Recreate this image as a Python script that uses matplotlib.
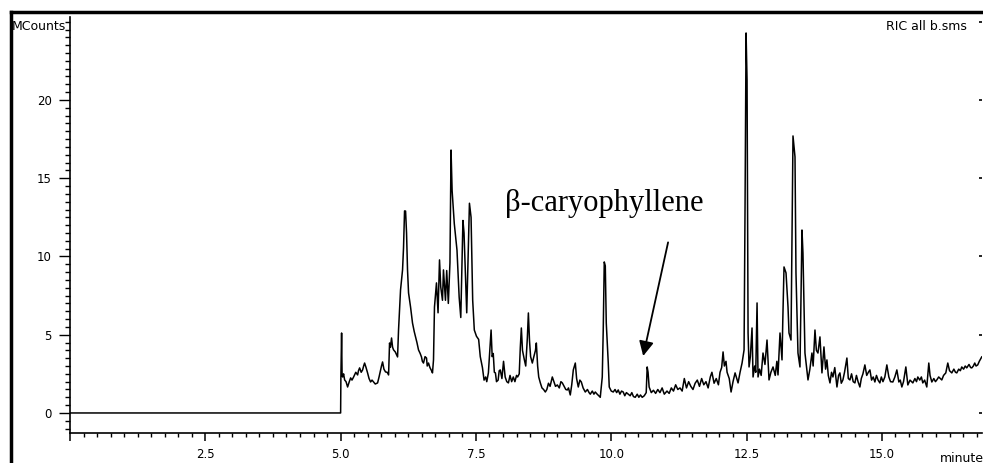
import numpy as np
import matplotlib
matplotlib.use("Agg")
import matplotlib.pyplot as plt
from matplotlib.ticker import MultipleLocator, FixedLocator
from matplotlib.lines import Line2D

# chromatogram: (retention time in min, intensity in MCounts)
flat_part = [(0.0, 0.0), (5.0, 0.0)]

early_cluster = [
    (5.005, 2.3), (5.018, 5.11), (5.027, 2.4), (5.037, 2.30), (5.055, 2.5),
    (5.074, 2.11), (5.10, 2.0), (5.129, 1.66), (5.16, 2.0), (5.185, 2.24),
    (5.21, 2.1), (5.24, 2.30), (5.28, 2.6), (5.314, 2.43), (5.33, 2.7),
    (5.351, 2.88), (5.38, 2.6), (5.406, 2.75), (5.425, 3.0), (5.443, 3.19),
    (5.47, 2.9), (5.498, 2.56), (5.525, 2.2), (5.554, 1.98), (5.58, 2.1),
    (5.609, 1.98), (5.64, 1.85), (5.683, 1.92), (5.71, 2.3), (5.738, 2.75),
    (5.755, 3.0), (5.775, 3.26), (5.80, 2.8), (5.83, 2.62), (5.86, 2.6),
    (5.886, 2.43), (5.904, 4.47), (5.92, 4.2), (5.941, 4.79), (5.96, 4.2),
    (5.978, 4.03), (6.01, 3.9), (6.035, 3.7), (6.052, 3.58), (6.07, 5.30),
    (6.107, 7.86), (6.144, 9.14), (6.162, 10.54), (6.181, 12.91), (6.20, 12.9),
    (6.218, 11.50), (6.236, 9.14), (6.255, 7.67), (6.292, 6.77), (6.328, 5.75),
    (6.36, 5.2), (6.384, 4.86), (6.41, 4.5), (6.439, 4.03), (6.47, 3.8),
    (6.494, 3.58), (6.51, 3.3), (6.531, 3.19), (6.56, 3.6), (6.587, 3.51),
    (6.60, 3.0), (6.624, 3.19), (6.65, 2.9), (6.68, 2.7), (6.697, 2.56),
    (6.716, 3.39), (6.734, 6.77), (6.771, 8.31), (6.80, 6.4), (6.827, 9.78),
    (6.85, 8.05), (6.882, 7.2), (6.90, 9.14), (6.937, 7.2), (6.96, 9.1),
    (6.99, 7.0), (7.02, 9.6), (7.04, 16.8), (7.06, 14.2), (7.10, 12.1),
    (7.15, 10.4), (7.19, 7.4), (7.22, 6.1), (7.26, 12.3), (7.28, 11.5),
    (7.33, 6.4), (7.38, 13.4), (7.41, 12.5), (7.44, 7.2), (7.47, 5.3),
    (7.51, 4.9), (7.55, 4.7), (7.58, 3.6),
]

middle_part = [
    (7.62, 2.9), (7.65, 2.1), (7.68, 2.3), (7.70, 2.0), (7.73, 2.56),
    (7.76, 4.2), (7.78, 5.3), (7.80, 3.6), (7.82, 3.8), (7.84, 2.6),
    (7.86, 2.56), (7.88, 2.0), (7.91, 2.1), (7.93, 2.7), (7.95, 2.75),
    (7.98, 2.2), (8.01, 3.3), (8.04, 2.3), (8.07, 2.0), (8.10, 1.92),
    (8.13, 2.4), (8.16, 2.0), (8.19, 2.30), (8.22, 2.0), (8.25, 2.4),
    (8.27, 2.30), (8.30, 2.5), (8.32, 4.2), (8.339, 5.43), (8.36, 4.0),
    (8.395, 3.39), (8.42, 3.0), (8.45, 4.8), (8.469, 6.39), (8.49, 4.6),
    (8.51, 3.6), (8.542, 3.19), (8.57, 3.6), (8.60, 4.0), (8.616, 4.47),
    (8.64, 3.0), (8.66, 2.3), (8.69, 1.92), (8.72, 1.6), (8.75, 1.5),
    (8.782, 1.34), (8.81, 1.5), (8.84, 1.9), (8.87, 1.7), (8.911, 2.30),
    (8.94, 2.0), (8.97, 1.7), (9.004, 1.79), (9.04, 1.6), (9.07, 2.0),
    (9.096, 1.92), (9.13, 1.7), (9.16, 1.5), (9.188, 1.47), (9.21, 1.6),
    (9.243, 1.15), (9.27, 1.8), (9.299, 2.75), (9.336, 3.19), (9.36, 2.2),
    (9.391, 1.66), (9.42, 2.1), (9.447, 1.98), (9.48, 1.6), (9.52, 1.34),
    (9.56, 1.5), (9.59, 1.3), (9.613, 1.2), (9.65, 1.4), (9.68, 1.2),
    (9.705, 1.34), (9.74, 1.2), (9.77, 1.1), (9.797, 1.0), (9.834, 2.30),
    (9.852, 5.30), (9.871, 9.65), (9.89, 9.4), (9.908, 5.75), (9.945, 3.19),
    (9.963, 1.66), (10.00, 1.4), (10.037, 1.34), (10.07, 1.5), (10.10, 1.3),
    (10.129, 1.47), (10.16, 1.2), (10.19, 1.4), (10.221, 1.34), (10.25, 1.1),
    (10.28, 1.3), (10.314, 1.2), (10.35, 1.1), (10.38, 1.3), (10.41, 1.05),
    (10.443, 1.0), (10.48, 1.2), (10.51, 1.0), (10.54, 1.15), (10.572, 1.0),
    (10.61, 1.1), (10.646, 1.3), (10.664, 2.94), (10.68, 2.6), (10.70, 1.66),
    (10.74, 1.3), (10.78, 1.45), (10.82, 1.25), (10.86, 1.5), (10.90, 1.3),
    (10.94, 1.6), (10.98, 1.2), (11.03, 1.4), (11.07, 1.25), (11.11, 1.6),
    (11.15, 1.4), (11.19, 1.8), (11.23, 1.5), (11.27, 1.6), (11.31, 1.4),
    (11.35, 2.2), (11.39, 1.6), (11.43, 2.0), (11.47, 1.7), (11.51, 1.5),
    (11.55, 1.9), (11.59, 2.1), (11.63, 1.7), (11.67, 2.2), (11.71, 1.8),
    (11.75, 2.0), (11.79, 1.6), (11.83, 2.3), (11.86, 2.6), (11.90, 1.9),
    (11.94, 2.2), (11.98, 1.8), (12.01, 2.6), (12.04, 2.9), (12.066, 3.9),
    (12.09, 3.0), (12.12, 3.3), (12.14, 2.6), (12.18, 2.2), (12.214, 1.34),
    (12.25, 2.0), (12.288, 2.56), (12.32, 2.2), (12.343, 1.92), (12.38, 2.6),
    (12.417, 3.19),
]

late_cluster = [
    (12.454, 4.03), (12.472, 13.16), (12.491, 24.28), (12.509, 21.28),
    (12.528, 5.11), (12.546, 2.94), (12.57, 3.6), (12.601, 5.43), (12.62, 2.30),
    (12.65, 3.0), (12.67, 2.6), (12.694, 7.03), (12.712, 2.30), (12.74, 2.8),
    (12.77, 2.4), (12.804, 3.83), (12.84, 3.1), (12.878, 4.66), (12.915, 2.11),
    (12.95, 2.6), (12.989, 2.94), (13.03, 2.4), (13.06, 3.3), (13.081, 2.43),
    (13.118, 5.11), (13.155, 3.39), (13.17, 6.0), (13.192, 9.33), (13.229, 8.95),
    (13.266, 6.77), (13.284, 5.11), (13.321, 4.66), (13.358, 17.70),
    (13.395, 16.36), (13.413, 8.95), (13.45, 3.83), (13.487, 2.94),
    (13.524, 11.69), (13.542, 10.22), (13.579, 3.83), (13.635, 2.11),
]

tail_part = [
    (13.67, 2.8), (13.708, 3.83), (13.73, 3.0), (13.764, 5.30), (13.79, 4.0),
    (13.819, 3.83), (13.856, 4.86), (13.893, 2.56), (13.93, 4.22), (13.96, 2.8),
    (13.985, 3.39), (14.01, 2.4), (14.041, 1.92), (14.07, 2.6), (14.096, 2.30),
    (14.13, 2.9), (14.17, 1.66), (14.20, 2.4), (14.225, 2.56), (14.25, 1.9),
    (14.28, 2.11), (14.31, 2.6), (14.354, 3.51), (14.38, 2.2), (14.41, 2.11),
    (14.44, 2.5), (14.47, 2.0), (14.502, 1.92), (14.53, 2.4), (14.56, 2.0),
    (14.594, 1.66), (14.62, 2.2), (14.65, 2.5), (14.686, 3.07), (14.72, 2.4),
    (14.75, 2.6), (14.779, 2.75), (14.81, 2.1), (14.84, 2.3), (14.871, 1.98),
    (14.90, 2.4), (14.93, 2.1), (14.963, 1.92), (14.99, 2.3), (15.02, 2.0),
    (15.055, 2.30), (15.092, 3.07), (15.129, 2.30), (15.16, 2.0), (15.203, 1.98),
    (15.24, 2.3), (15.277, 2.75), (15.314, 1.98), (15.34, 2.1), (15.369, 1.66),
    (15.40, 2.0), (15.443, 2.94), (15.48, 1.79), (15.52, 2.1), (15.55, 2.0),
    (15.572, 1.92), (15.61, 2.2), (15.64, 2.0), (15.664, 2.30), (15.70, 2.1),
    (15.73, 2.3), (15.756, 1.92), (15.79, 2.1), (15.83, 1.66), (15.867, 3.19),
    (15.89, 2.4), (15.923, 1.98), (15.96, 2.2), (15.99, 2.0), (16.015, 2.11),
    (16.05, 2.3), (16.08, 2.2), (16.107, 2.11), (16.14, 2.4), (16.181, 2.56),
    (16.218, 3.19), (16.25, 2.7), (16.292, 2.56), (16.33, 2.8), (16.36, 2.6),
    (16.384, 2.56), (16.42, 2.8), (16.45, 2.7), (16.476, 2.94), (16.51, 2.8),
    (16.54, 3.0), (16.568, 2.88), (16.61, 3.1), (16.64, 2.9), (16.661, 2.88),
    (16.69, 3.0), (16.716, 3.19), (16.74, 3.0), (16.771, 3.07), (16.80, 3.3),
    (16.845, 3.58),
]

xticks = [2.5, 5.0, 7.5, 10.0, 12.5, 15.0]
xticklabels = ["2.5", "5.0", "7.5", "10.0", "12.5", "15.0"]
yticks = [0, 5, 10, 15, 20]

trace = np.array(flat_part + early_cluster + middle_part + late_cluster + tail_part)
time_min = trace[:, 0]
mcounts = trace[:, 1]

fig = plt.figure(figsize=(9.83, 4.63), dpi=100)
ax = fig.add_axes([70 / 983, 1 - 433 / 463, 912 / 983, 416 / 463])

ax.plot(time_min, mcounts, color="black", lw=1.1)

ax.set_xlim(0, 16.85)
ax.set_ylim(-1.28, 25.3)

for s in ["top", "right"]:
    ax.spines[s].set_visible(False)
ax.spines["left"].set_linewidth(1.2)
ax.spines["bottom"].set_linewidth(1.2)

ax.xaxis.set_major_locator(FixedLocator([0] + xticks))
ax.set_xticklabels([""] + xticklabels)
ax.xaxis.set_minor_locator(MultipleLocator(0.25))
ax.yaxis.set_major_locator(FixedLocator(yticks))
ax.yaxis.set_minor_locator(MultipleLocator(0.5))

ax.tick_params(axis="x", which="major", direction="out", length=6, width=1.1,
               labelsize=8.5, pad=5)
ax.tick_params(axis="x", which="minor", direction="out", length=3, width=1.0)
ax.tick_params(axis="y", which="major", direction="out", length=8, width=1.0,
               labelsize=8.5, pad=5)
ax.tick_params(axis="y", which="minor", direction="out", length=3.5, width=1.0)
for lab in ax.get_xticklabels() + ax.get_yticklabels():
    lab.set_family("DejaVu Sans")

# small ticks on the right edge
ax2 = ax.twinx()
ax2.set_ylim(ax.get_ylim())
ax2.yaxis.set_major_locator(FixedLocator([0, 5, 10, 15, 20, 25]))
ax2.tick_params(axis="y", direction="in", length=2, width=1.2, labelright=False)
for s in ax2.spines.values():
    s.set_visible(False)

fig.text(12 / 983, 1 - 27 / 463, "MCounts", fontsize=9, family="DejaVu Sans",
         va="center", ha="left")
fig.text(967 / 983, 1 - 27 / 463, "RIC all b.sms", fontsize=9,
         family="DejaVu Sans", va="center", ha="right")
fig.text(940 / 983, 1 - 459 / 463, "minutes", fontsize=9,
         family="DejaVu Sans", va="center", ha="left")

ax.text(8.04, 13.4, "\u03b2-caryophyllene", fontsize=22, family="Liberation Serif",
        va="center", ha="left")
ax.annotate("", xy=(10.59, 3.64), xytext=(11.05, 10.9),
            arrowprops=dict(arrowstyle="-|>", color="black", lw=1.3,
                            mutation_scale=22, shrinkA=0, shrinkB=0))

# outer thick frame (left and top edges visible)
fig.add_artist(Line2D([11 / 983, 11 / 983], [0, 1 - 12 / 463], color="black",
                      lw=2.5, transform=fig.transFigure))
fig.add_artist(Line2D([11 / 983, 1], [1 - 12 / 463, 1 - 12 / 463], color="black",
                      lw=2.5, transform=fig.transFigure))

fig.savefig("out.png", dpi=100)
